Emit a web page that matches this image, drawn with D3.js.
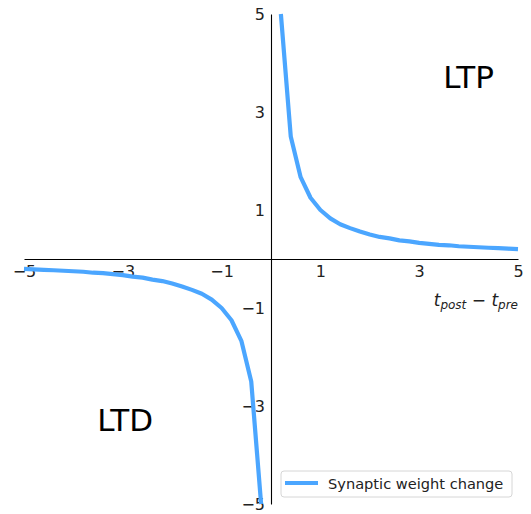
<!DOCTYPE html>
<html>
<head>
<meta charset="utf-8">
<script src="https://cdn.jsdelivr.net/npm/d3@7"></script>
<style>
  body { margin: 0; background: #fff; }
  svg { display: block; font-family: "DejaVu Sans", sans-serif; }
</style>
</head>
<body>
<div id="chart"></div>
<script>
// Data: spike timing difference vs weight change
const dtPositive = [0.2, 0.4, 0.6, 0.8, 1.0, 1.2, 1.4, 1.6, 1.8, 2.0, 2.2, 2.4, 2.6,
  2.8, 3.0, 3.2, 3.4, 3.6, 3.8, 4.0, 4.2, 4.4, 4.6, 4.8, 5.0];
const dwPositive = [5.0, 2.5, 1.67, 1.25, 1.0, 0.83, 0.71, 0.63, 0.56, 0.5, 0.45, 0.42, 0.38,
  0.36, 0.33, 0.31, 0.29, 0.28, 0.26, 0.25, 0.24, 0.23, 0.22, 0.21, 0.2];
const dtNegative = [-5.0, -4.8, -4.6, -4.4, -4.2, -4.0, -3.8, -3.6, -3.4, -3.2, -3.0, -2.8, -2.6,
  -2.4, -2.2, -2.0, -1.8, -1.6, -1.4, -1.2, -1.0, -0.8, -0.6, -0.4, -0.2];
const dwNegative = [-0.2, -0.21, -0.22, -0.23, -0.24, -0.25, -0.26, -0.28, -0.29, -0.31, -0.33, -0.36, -0.38,
  -0.42, -0.45, -0.5, -0.56, -0.63, -0.71, -0.83, -1.0, -1.25, -1.67, -2.5, -5.0];

const xTicks = [-5, -3, -1, 1, 3, 5];
const yTicks = [-5, -3, -1, 1, 3, 5];
const seriesName = "Synaptic weight change";
const regionLabels = [
  { text: "LTP", x: 4, y: 3.5 },
  { text: "LTD", x: -2.95, y: -3.5 }
];

const width = 531;
const height = 514;
const lineColor = "#4ba6ff";

const x = d3.scaleLinear().domain([-5, 5]).range([24, 518]);
const y = d3.scaleLinear().domain([-5, 5]).range([504, 14]);

const svg = d3.select("#chart")
  .append("svg")
  .attr("width", width)
  .attr("height", height);

const fmt = d => d < 0 ? "\u2212" + Math.abs(d) : String(d);

// Axes through the origin, no tick marks
const xAxis = svg.append("g")
  .attr("transform", `translate(0,${y(0)})`)
  .call(d3.axisBottom(x).tickValues(xTicks).tickFormat(fmt).tickSize(0).tickPadding(7));
const yAxis = svg.append("g")
  .attr("transform", `translate(${x(0)},0)`)
  .call(d3.axisLeft(y).tickValues(yTicks).tickFormat(fmt).tickSize(0).tickPadding(6));

[xAxis, yAxis].forEach(g => {
  g.select(".domain").attr("stroke", "#000").attr("stroke-width", 1.1);
  g.selectAll("text")
    .attr("font-family", "DejaVu Sans, sans-serif")
    .attr("font-size", 16)
    .attr("fill", "#222");
});

// x label: t_post − t_pre
const xLabel = svg.append("text")
  .attr("x", 518)
  .attr("y", 306)
  .attr("text-anchor", "end")
  .attr("font-size", 17)
  .attr("fill", "#222");
xLabel.append("tspan").attr("font-style", "italic").text("t");
xLabel.append("tspan").attr("font-style", "italic").attr("font-size", 12).attr("dy", 3).text("post");
xLabel.append("tspan").attr("dy", -3).text(" \u2212 ");
xLabel.append("tspan").attr("font-style", "italic").text("t");
xLabel.append("tspan").attr("font-style", "italic").attr("font-size", 12).attr("dy", 3).text("pre");

// Region labels
svg.selectAll(".region")
  .data(regionLabels)
  .enter().append("text")
  .attr("class", "region")
  .attr("x", d => x(d.x))
  .attr("y", d => y(d.y))
  .attr("text-anchor", "middle")
  .attr("font-size", 31)
  .attr("fill", "#000")
  .text(d => d.text);

// Curve, two branches
const line = d3.line().x(d => x(d[0])).y(d => y(d[1]));
const branches = [
  d3.zip(dtPositive, dwPositive),
  d3.zip(dtNegative, dwNegative)
];
svg.selectAll(".branch")
  .data(branches)
  .enter().append("path")
  .attr("class", "branch")
  .attr("d", line)
  .attr("fill", "none")
  .attr("stroke", lineColor)
  .attr("stroke-width", 4.2)
  .attr("stroke-linejoin", "round");

// Legend
const legend = svg.append("g").attr("transform", "translate(281,471)");
legend.append("rect")
  .attr("width", 231)
  .attr("height", 26)
  .attr("rx", 3)
  .attr("fill", "#fff")
  .attr("stroke", "#d6d6d6")
  .attr("stroke-width", 1);
legend.append("line")
  .attr("x1", 4).attr("x2", 37)
  .attr("y1", 12).attr("y2", 12)
  .attr("stroke", lineColor)
  .attr("stroke-width", 4.2);
legend.append("text")
  .attr("x", 47)
  .attr("y", 17.5)
  .attr("font-size", 14.6)
  .attr("fill", "#222")
  .text(seriesName);
</script>
</body>
</html>
